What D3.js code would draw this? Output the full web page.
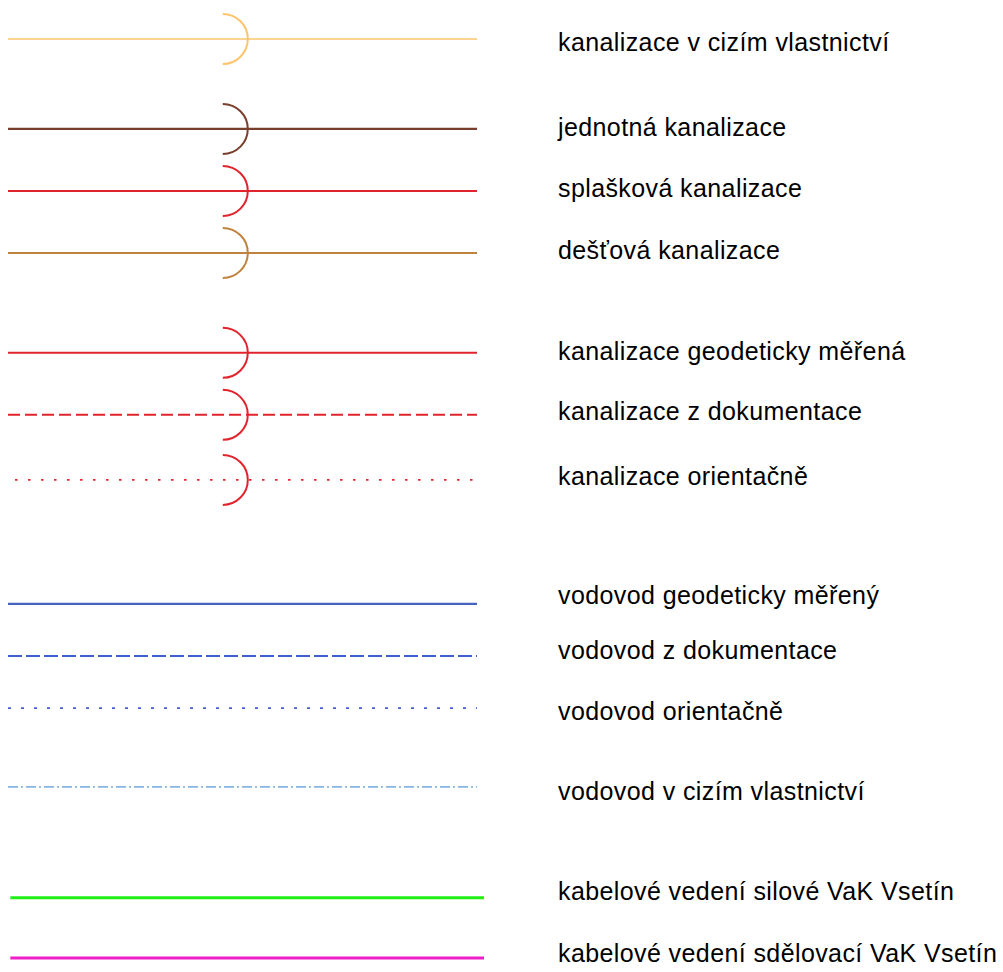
<!DOCTYPE html>
<html>
<head>
<meta charset="utf-8">
<script src="https://cdn.jsdelivr.net/npm/d3@7"></script>
<style>
    body { margin: 0; background: #fff; }
    svg { display: block; }
    .label { font-family: "Liberation Sans", Arial, sans-serif; font-size: 25px; letter-spacing: 0.4px; fill: #000; }
</style>
</head>
<body>
<div id="chart"></div>
<script>
// Legend rows
var labels = [
    "kanalizace v cizím vlastnictví",
    "jednotná kanalizace",
    "splašková kanalizace",
    "dešťová kanalizace",
    "kanalizace geodeticky měřená",
    "kanalizace z dokumentace",
    "kanalizace orientačně",
    "vodovod geodeticky měřený",
    "vodovod z dokumentace",
    "vodovod orientačně",
    "vodovod v cizím vlastnictví",
    "kabelové vedení silové VaK Vsetín",
    "kabelové vedení sdělovací VaK Vsetín"
];

var colors = [
    "#fdc46c", "#7a3e2c", "#e1242c", "#c0833f",
    "#e1242c", "#e1242c", "#e1242c",
    "#4563c1", "#3f5fcf", "#4a5fd6", "#86b6e2",
    "#1ef016", "#f01ec8"
];

// line kind: solid, dashed, dotted, dashdot
var styles = [
    "solid", "solid", "solid", "solid",
    "solid", "dashed", "dotted",
    "solid", "dashedBlue", "dottedBlue", "dashdot",
    "solid", "solid"
];

var widths = [1.5, 2.3, 2, 2.1, 2.2, 1.9, 1.6, 2.2, 2.2, 1.8, 1.9, 3, 3];

// whether the row carries the sewer half-circle mark
var hasArc = [true, true, true, true, true, true, true, false, false, false, false, false, false];

// vertical slot of each line and its label (legend units)
var lineSlot = [0, 1.45, 2.45, 3.45, 5.06, 6.06, 7.11, 9.11, 9.95, 10.79, 12.06, 13.85, 14.82];
var labelSlot = [0.05, 1.42, 2.40, 3.40, 5.03, 6.00, 7.05, 8.97, 9.86, 10.84, 12.13, 13.74, 14.74];

var dashes = {
    solid: null,
    dashed: "12,5",
    dotted: "2.5,10.5",
    dashedBlue: "14,4",
    dottedBlue: "3,10",
    dashdot: "10,3,2,3"
};

var width = 1003, height = 972;

var svg = d3.select("#chart")
    .append("svg")
    .attr("width", width)
    .attr("height", height);

var y = d3.scaleLinear()
    .domain([0, 14.82])
    .range([39, 958]);

var x = d3.scaleLinear()
    .domain([0, 1])
    .range([8, 477]);

var rows = labels.map(function(d, i) { return i; });

// main lines
svg.selectAll(".line")
    .data(rows)
    .enter()
    .append("line")
    .attr("class", "line")
    .attr("x1", function(i) {
        if (styles[i] === "dotted") return x(0.015);
        if (i >= 11) return x(0.005);
        return x(0);
    })
    .attr("x2", function(i) { return i >= 11 ? x(1.015) : x(1); })
    .attr("y1", function(i) { return y(lineSlot[i]); })
    .attr("y2", function(i) { return y(lineSlot[i]); })
    .attr("stroke", function(i) { return colors[i]; })
    .attr("stroke-width", function(i) { return widths[i]; })
    .attr("stroke-dasharray", function(i) { return dashes[styles[i]]; });

// half-circle marks on sewer rows
var r = 25;
svg.selectAll(".arc")
    .data(rows.filter(function(i) { return hasArc[i]; }))
    .enter()
    .append("path")
    .attr("class", "arc")
    .attr("d", function(i) {
        var cx = x(0.458), cy = y(lineSlot[i]);
        return "M" + cx + "," + (cy - r) + " A" + r + "," + r + " 0 0 1 " + cx + "," + (cy + r);
    })
    .attr("fill", "none")
    .attr("stroke", function(i) { return colors[i]; })
    .attr("stroke-width", 2);

// labels
svg.selectAll(".label")
    .data(rows)
    .enter()
    .append("text")
    .attr("class", "label")
    .attr("x", 558)
    .attr("y", function(i) { return y(labelSlot[i]); })
    .attr("dy", "0.36em")
    .text(function(i) { return labels[i]; });
</script>
</body>
</html>
